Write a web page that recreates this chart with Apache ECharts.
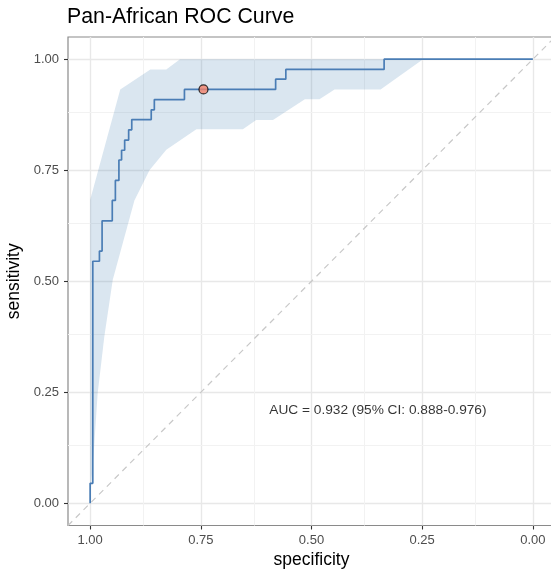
<!DOCTYPE html>
<html>
<head>
<meta charset="utf-8">
<script src="https://cdn.jsdelivr.net/npm/echarts@6/dist/echarts.min.js"></script>
<style>
html,body{margin:0;padding:0;background:#fff;}
#chart{width:551px;height:574px;}
</style>
</head>
<body>
<div id="chart"></div>
<script>
// ROC curve points (specificity, sensitivity)
var rocSpecificity = [1.000,1.000,0.994,0.994,0.979,0.979,0.973,0.973,0.950,0.950,0.943,0.943,0.935,0.935,0.929,0.929,0.922,0.922,0.913,0.913,0.906,0.906,0.862,0.862,0.855,0.855,0.787,0.787,0.581,0.581,0.558,0.558,0.336,0.336,0.000];
var rocSensitivity = [0.000,0.045,0.045,0.545,0.545,0.568,0.568,0.636,0.636,0.682,0.682,0.727,0.727,0.773,0.773,0.795,0.795,0.818,0.818,0.841,0.841,0.864,0.864,0.886,0.886,0.909,0.909,0.932,0.932,0.955,0.955,0.977,0.977,1.000,1.000];

// 95% CI band of sensitivity
var ciUpperSpec = [1.000,0.932,0.864,0.828,0.797,0.000];
var ciUpperSens = [0.683,0.932,0.977,0.977,1.000,1.000];
var ciLowerSpec = [1.000,0.997,0.991,0.983,0.968,0.949,0.900,0.866,0.828,0.760,0.655,0.625,0.587,0.515,0.482,0.448,0.344,0.248,0.000];
var ciLowerSens = [0.000,0.052,0.127,0.248,0.375,0.503,0.682,0.750,0.796,0.842,0.842,0.863,0.863,0.910,0.910,0.932,0.932,1.000,1.000];

// best threshold point
var bestPoint = [0.744, 0.932];

// annotation
var aucText = 'AUC = 0.932 (95% CI: 0.888-0.976)';
var aucPos = [0.35, 0.21];

// axis ticks
var tickValues = [0, 0.25, 0.5, 0.75, 1];
var minorValues = [0.125, 0.375, 0.625, 0.875];

// chance diagonal
var diagSpec = [1.05, -0.05];
var diagSens = [-0.05, 1.05];

var FONT = 'Liberation Sans, Arial, Helvetica, sans-serif';

function zip(a, b) { return a.map(function (v, i) { return [v, b[i]]; }); }

var bandPoly = zip(ciUpperSpec, ciUpperSens).concat(zip(ciLowerSpec, ciLowerSens).reverse());

var gridLines = [];
tickValues.forEach(function (v) {
  gridLines.push({ xAxis: v, lineStyle: { color: '#e8e8e8', width: 1.4, type: 'solid' } });
  gridLines.push({ yAxis: v, lineStyle: { color: '#e8e8e8', width: 1.4, type: 'solid' } });
});
minorValues.forEach(function (v) {
  gridLines.push({ xAxis: v, lineStyle: { color: '#f2f2f2', width: 1, type: 'solid' } });
  gridLines.push({ yAxis: v, lineStyle: { color: '#f2f2f2', width: 1, type: 'solid' } });
});

function axisCommon(name) {
  return {
    type: 'value',
    min: -0.05,
    max: 1.05,
    axisLine: { show: false, onZero: false },
    splitLine: { show: false },
    axisTick: { show: true, customValues: tickValues, length: 4, lineStyle: { color: '#333', width: 1.1 } },
    axisLabel: {
      customValues: tickValues,
      formatter: function (v) { return v.toFixed(2); },
      color: '#4d4d4d', fontSize: 13, fontFamily: FONT, margin: 9
    },
    name: name,
    nameLocation: 'middle',
    nameTextStyle: { color: '#000', fontSize: 17.5, fontFamily: FONT }
  };
}

var xAxis = axisCommon('specificity');
xAxis.inverse = true;
xAxis.nameGap = 25;
xAxis.axisLabel.margin = 8;
var yAxis = axisCommon('sensitivity');
yAxis.nameGap = 42;

var chart = echarts.init(document.getElementById('chart'), null, { renderer: 'canvas' });
chart.setOption({
  animation: false,
  backgroundColor: '#fff',
  title: {
    text: 'Pan-African ROC Curve',
    left: 67, top: 7, padding: 0,
    textStyle: { color: '#000', fontSize: 21.3, fontWeight: 'normal', fontFamily: FONT }
  },
  grid: {
    left: 68, top: 37, width: 487, height: 488.5,
    containLabel: false, outerBoundsMode: 'none',
    show: true, borderColor: '#8a8a8a', borderWidth: 1.2, backgroundColor: 'transparent'
  },
  xAxis: xAxis,
  yAxis: yAxis,
  series: [
    {
      type: 'line', data: [], z: 1, silent: true,
      markLine: { z: 1, silent: true, symbol: ['none', 'none'], label: { show: false }, animation: false, data: gridLines }
    },
    {
      type: 'custom', z: 2, silent: true,
      data: [0],
      renderItem: function (params, api) {
        var pts = bandPoly.map(function (p) { return api.coord(p); });
        return { type: 'polygon', shape: { points: pts }, style: { fill: 'rgba(70,130,180,0.2)' } };
      }
    },
    {
      type: 'line', z: 3, silent: true, showSymbol: false,
      data: zip(diagSpec, diagSens),
      lineStyle: { color: '#c8c8c8', width: 1.2, type: [6, 5] }
    },
    {
      type: 'line', z: 4, silent: true, showSymbol: false,
      data: zip(rocSpecificity, rocSensitivity),
      lineStyle: { color: '#4a7db5', width: 1.7 }
    },
    {
      type: 'scatter', z: 5, silent: true,
      data: [bestPoint],
      symbolSize: 9,
      itemStyle: { color: '#f4826c', borderColor: '#000', borderWidth: 1.2 }
    },
    {
      type: 'scatter', z: 6, silent: true,
      data: [aucPos], symbolSize: 1,
      itemStyle: { color: 'transparent' },
      label: {
        show: true, position: 'inside', formatter: aucText,
        color: '#000', fontSize: 13.7, fontFamily: FONT, align: 'center', verticalAlign: 'middle'
      }
    }
  ]
});
</script>
</body>
</html>
